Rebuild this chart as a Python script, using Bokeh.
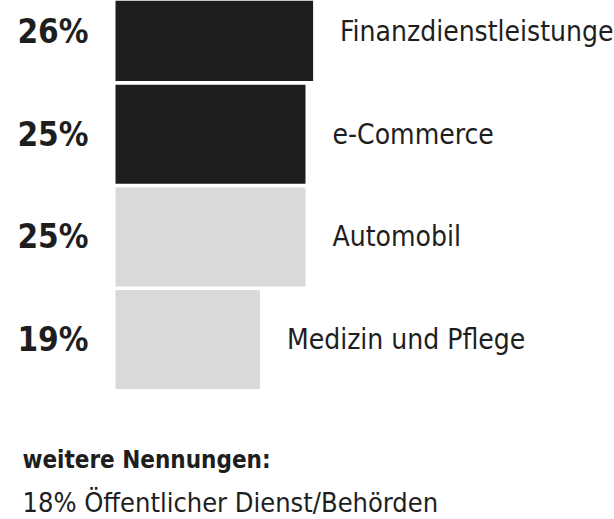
from bokeh.plotting import figure
from bokeh.models import ColumnDataSource, Range1d, Label
from bokeh.core.properties import value
from bokeh.embed import file_html
from bokeh.resources import INLINE

# ---- data ----
categories = ["Finanzdienstleistungen", "e-Commerce", "Automobil", "Medizin und Pflege"]
values = [26, 25, 25, 19]
bar_colors = ["#1e1e1e", "#1e1e1e", "#d9d9d9", "#d9d9d9"]
footnote_title = "weitere Nennungen:"
other_value = 18
other_category = "Öffentlicher Dienst/Behörden"

# ---- layout constants ----
W, H = 614, 519
X0 = 115.0          # pixel position of value 0
PX_PER = 7.6        # pixels per percent
ROW0 = 31.0         # pixel centre of first row
ROW_STEP = 102.7    # pixels between rows
FONT = "DejaVu Sans Condensed"
INK = "#1e1e1e"

def px_to_x(px):
    return (px - X0) / PX_PER

def py_to_row(py):
    return (py - ROW0) / ROW_STEP

rows = list(range(len(categories)))
src = ColumnDataSource(dict(
    row=rows,
    value=values,
    color=bar_colors,
    cat=categories,
    pct=[f"{v}%" for v in values],
))

p = figure(
    width=W, height=H,
    x_range=Range1d(px_to_x(0), px_to_x(W)),
    y_range=Range1d(py_to_row(H), py_to_row(0)),
    output_backend="svg", toolbar_location=None,
    x_axis_type=None, y_axis_type=None,
    min_border=0, outline_line_color=None,
    background_fill_color="white", border_fill_color="white",
)
p.xgrid.visible = False
p.ygrid.visible = False

p.hbar(y="row", left=0, right="value", height=99 / ROW_STEP,
       fill_color="color", line_color=None, source=src)

p.text(x=px_to_x(88), y="row", text="pct", source=src,
       text_align="right", text_baseline="middle",
       text_font=value(FONT), text_font_style="bold",
       text_font_size="33px", text_color=INK)

p.text(x="value", y="row", text="cat", source=src, x_offset=27,
       text_align="left", text_baseline="middle",
       text_font=value(FONT), text_font_size="28px", text_color=INK)

p.add_layout(Label(x=px_to_x(22), y=py_to_row(459), text=footnote_title,
                   text_align="left", text_baseline="middle",
                   text_font=FONT, text_font_style="bold",
                   text_font_size="24px", text_color=INK))
p.add_layout(Label(x=px_to_x(22), y=py_to_row(502),
                   text=f"{other_value}% {other_category}",
                   text_align="left", text_baseline="middle",
                   text_font=FONT, text_font_size="27px", text_color=INK))

open("out.html", "w").write(file_html(p, INLINE))
